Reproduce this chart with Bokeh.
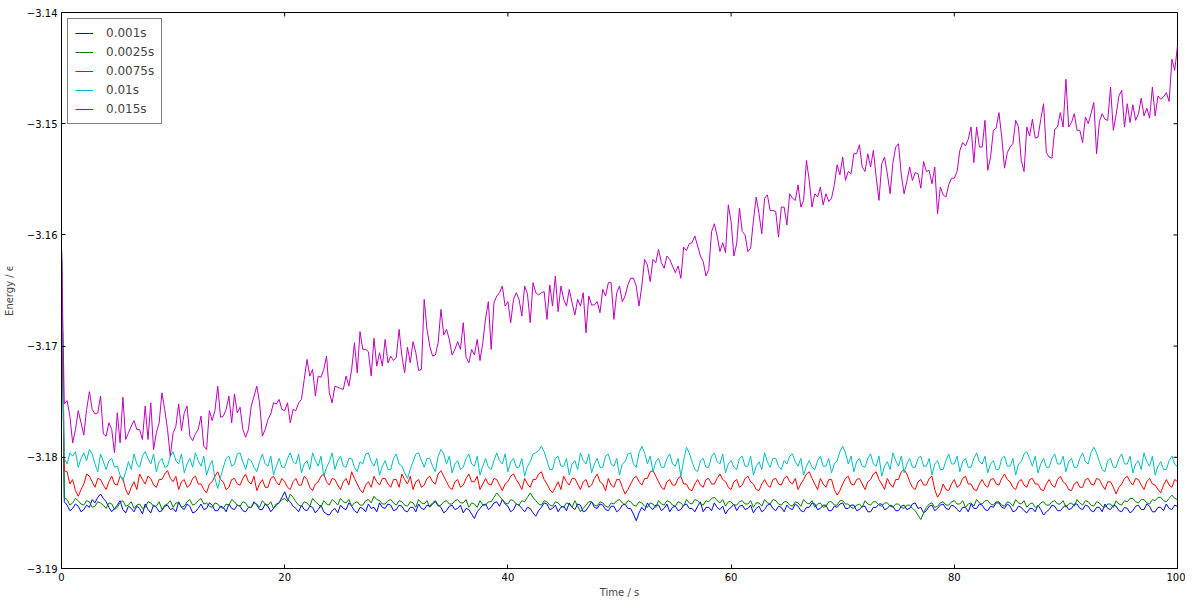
import numpy as np
from bokeh.plotting import figure
from bokeh.models import (Range1d, FixedTicker, Legend, LegendItem,
                          CustomJSTickFormatter)
from bokeh.embed import file_html
from bokeh.resources import INLINE

# ---- data ----
labels = ["0.001s", "0.0025s", "0.0075s", "0.01s", "0.015s"]
colors = ["#0000ff", "#008000", "#ff0000", "#00bfbf", "#bf00bf"]
x_ticks = [0, 20, 40, 60, 80, 100]
y_ticks = [-3.19, -3.18, -3.17, -3.16, -3.15, -3.14]

e_0001 = [
    -3.1612, -3.1840, -3.1843, -3.1848, -3.1846, -3.1842, -3.1844, -3.1849, -3.1847, -3.1843,
    -3.1845, -3.1838, -3.1841, -3.1836, -3.1833, -3.1837, -3.1840, -3.1845, -3.1849, -3.1846,
    -3.1843, -3.1839, -3.1847, -3.1850, -3.1844, -3.1846, -3.1849, -3.1844, -3.1846, -3.1851,
    -3.1842, -3.1847, -3.1850, -3.1843, -3.1845, -3.1849, -3.1848, -3.1844, -3.1843, -3.1847,
    -3.1846, -3.1849, -3.1840, -3.1845, -3.1847, -3.1842, -3.1844, -3.1850, -3.1849, -3.1846,
    -3.1842, -3.1847, -3.1846, -3.1841, -3.1843, -3.1848, -3.1848, -3.1844, -3.1845, -3.1849,
    -3.1842, -3.1846, -3.1847, -3.1843, -3.1844, -3.1848, -3.1849, -3.1845, -3.1845, -3.1840,
    -3.1843, -3.1847, -3.1847, -3.1842, -3.1844, -3.1849, -3.1846, -3.1842, -3.1841, -3.1836,
    -3.1831, -3.1838, -3.1840, -3.1844, -3.1846, -3.1849, -3.1843, -3.1847, -3.1848, -3.1844,
    -3.1845, -3.1850, -3.1847, -3.1843, -3.1849, -3.1851, -3.1852, -3.1848, -3.1846, -3.1850,
    -3.1843, -3.1846, -3.1847, -3.1841, -3.1844, -3.1848, -3.1850, -3.1845, -3.1846, -3.1849,
    -3.1842, -3.1846, -3.1845, -3.1849, -3.1841, -3.1845, -3.1846, -3.1842, -3.1843, -3.1848,
    -3.1847, -3.1843, -3.1844, -3.1848, -3.1849, -3.1845, -3.1845, -3.1849, -3.1842, -3.1846,
    -3.1847, -3.1843, -3.1844, -3.1841, -3.1839, -3.1843, -3.1845, -3.1850, -3.1848, -3.1844,
    -3.1843, -3.1847, -3.1846, -3.1843, -3.1850, -3.1846, -3.1847, -3.1851, -3.1855, -3.1849,
    -3.1846, -3.1843, -3.1842, -3.1847, -3.1845, -3.1841, -3.1840, -3.1844, -3.1838, -3.1842,
    -3.1844, -3.1849, -3.1847, -3.1842, -3.1843, -3.1846, -3.1849, -3.1845, -3.1846, -3.1850,
    -3.1853, -3.1848, -3.1845, -3.1841, -3.1842, -3.1847, -3.1846, -3.1843, -3.1849, -3.1845,
    -3.1844, -3.1848, -3.1841, -3.1845, -3.1847, -3.1842, -3.1843, -3.1849, -3.1848, -3.1844,
    -3.1840, -3.1845, -3.1846, -3.1842, -3.1843, -3.1847, -3.1848, -3.1844, -3.1844, -3.1849,
    -3.1847, -3.1843, -3.1842, -3.1846, -3.1846, -3.1851, -3.1857, -3.1850, -3.1845, -3.1848,
    -3.1841, -3.1845, -3.1847, -3.1843, -3.1843, -3.1848, -3.1846, -3.1842, -3.1849, -3.1845,
    -3.1844, -3.1848, -3.1847, -3.1843, -3.1842, -3.1846, -3.1846, -3.1849, -3.1844, -3.1840,
    -3.1849, -3.1845, -3.1845, -3.1848, -3.1841, -3.1845, -3.1847, -3.1844, -3.1851, -3.1847,
    -3.1845, -3.1842, -3.1848, -3.1844, -3.1843, -3.1847, -3.1846, -3.1843, -3.1850, -3.1846,
    -3.1844, -3.1849, -3.1847, -3.1843, -3.1842, -3.1846, -3.1848, -3.1844, -3.1845, -3.1849,
    -3.1843, -3.1846, -3.1847, -3.1842, -3.1844, -3.1848, -3.1849, -3.1845, -3.1845, -3.1841,
    -3.1842, -3.1847, -3.1846, -3.1843, -3.1843, -3.1848, -3.1848, -3.1844, -3.1845, -3.1842,
    -3.1841, -3.1846, -3.1846, -3.1843, -3.1843, -3.1848, -3.1847, -3.1844, -3.1844, -3.1849,
    -3.1849, -3.1845, -3.1845, -3.1842, -3.1842, -3.1847, -3.1846, -3.1843, -3.1844, -3.1848,
    -3.1848, -3.1844, -3.1843, -3.1847, -3.1846, -3.1842, -3.1841, -3.1846, -3.1845, -3.1850,
    -3.1848, -3.1844, -3.1843, -3.1848, -3.1846, -3.1843, -3.1842, -3.1846, -3.1847, -3.1843,
    -3.1844, -3.1847, -3.1849, -3.1845, -3.1845, -3.1849, -3.1842, -3.1846, -3.1846, -3.1842,
    -3.1843, -3.1847, -3.1848, -3.1844, -3.1845, -3.1841, -3.1841, -3.1845, -3.1846, -3.1842,
    -3.1844, -3.1849, -3.1848, -3.1844, -3.1845, -3.1848, -3.1850, -3.1846, -3.1846, -3.1849,
    -3.1843, -3.1847, -3.1852, -3.1849, -3.1847, -3.1843, -3.1844, -3.1848, -3.1848, -3.1845,
    -3.1843, -3.1847, -3.1846, -3.1842, -3.1842, -3.1846, -3.1847, -3.1843, -3.1844, -3.1848,
    -3.1849, -3.1845, -3.1845, -3.1849, -3.1842, -3.1846, -3.1847, -3.1843, -3.1844, -3.1848,
    -3.1849, -3.1845, -3.1846, -3.1850, -3.1848, -3.1844, -3.1843, -3.1847, -3.1847, -3.1842,
    -3.1844, -3.1849, -3.1849, -3.1845, -3.1845, -3.1848, -3.1842, -3.1846, -3.1847, -3.1843,
    -3.1844,
]

e_0025 = [
    -3.1612, -3.1836, -3.1838, -3.1843, -3.1841, -3.1837, -3.1839, -3.1842, -3.1843, -3.1839,
    -3.1840, -3.1845, -3.1844, -3.1840, -3.1841, -3.1843, -3.1846, -3.1841, -3.1842, -3.1847,
    -3.1845, -3.1841, -3.1839, -3.1844, -3.1843, -3.1840, -3.1846, -3.1843, -3.1842, -3.1846,
    -3.1845, -3.1840, -3.1841, -3.1844, -3.1844, -3.1840, -3.1847, -3.1843, -3.1842, -3.1839,
    -3.1845, -3.1841, -3.1841, -3.1845, -3.1844, -3.1840, -3.1838, -3.1843, -3.1842, -3.1839,
    -3.1837, -3.1842, -3.1841, -3.1844, -3.1845, -3.1841, -3.1842, -3.1845, -3.1846, -3.1842,
    -3.1843, -3.1838, -3.1840, -3.1843, -3.1844, -3.1840, -3.1841, -3.1845, -3.1845, -3.1841,
    -3.1842, -3.1845, -3.1839, -3.1842, -3.1843, -3.1840, -3.1846, -3.1843, -3.1841, -3.1838,
    -3.1837, -3.1840, -3.1833, -3.1836, -3.1840, -3.1843, -3.1844, -3.1840, -3.1841, -3.1844,
    -3.1837, -3.1840, -3.1842, -3.1845, -3.1839, -3.1842, -3.1843, -3.1838, -3.1840, -3.1843,
    -3.1837, -3.1840, -3.1841, -3.1838, -3.1844, -3.1841, -3.1840, -3.1843, -3.1843, -3.1839,
    -3.1838, -3.1841, -3.1835, -3.1838, -3.1839, -3.1842, -3.1842, -3.1839, -3.1838, -3.1841,
    -3.1843, -3.1839, -3.1840, -3.1843, -3.1844, -3.1840, -3.1841, -3.1845, -3.1838, -3.1841,
    -3.1842, -3.1839, -3.1845, -3.1842, -3.1840, -3.1844, -3.1843, -3.1840, -3.1839, -3.1842,
    -3.1842, -3.1839, -3.1838, -3.1841, -3.1841, -3.1838, -3.1845, -3.1841, -3.1842, -3.1845,
    -3.1839, -3.1843, -3.1843, -3.1840, -3.1840, -3.1836, -3.1832, -3.1835, -3.1838, -3.1841,
    -3.1842, -3.1838, -3.1839, -3.1842, -3.1843, -3.1839, -3.1840, -3.1836, -3.1832, -3.1836,
    -3.1839, -3.1842, -3.1843, -3.1839, -3.1840, -3.1843, -3.1844, -3.1840, -3.1841, -3.1844,
    -3.1845, -3.1841, -3.1842, -3.1845, -3.1839, -3.1844, -3.1849, -3.1846, -3.1843, -3.1840,
    -3.1840, -3.1843, -3.1844, -3.1840, -3.1841, -3.1844, -3.1845, -3.1841, -3.1842, -3.1839,
    -3.1838, -3.1841, -3.1843, -3.1839, -3.1840, -3.1843, -3.1844, -3.1840, -3.1841, -3.1844,
    -3.1845, -3.1841, -3.1842, -3.1845, -3.1839, -3.1842, -3.1843, -3.1839, -3.1840, -3.1843,
    -3.1844, -3.1840, -3.1841, -3.1844, -3.1838, -3.1841, -3.1842, -3.1838, -3.1839, -3.1842,
    -3.1843, -3.1839, -3.1840, -3.1837, -3.1836, -3.1839, -3.1841, -3.1838, -3.1844, -3.1840,
    -3.1840, -3.1843, -3.1843, -3.1840, -3.1839, -3.1842, -3.1842, -3.1839, -3.1845, -3.1841,
    -3.1841, -3.1844, -3.1838, -3.1841, -3.1842, -3.1838, -3.1839, -3.1842, -3.1843, -3.1840,
    -3.1840, -3.1843, -3.1844, -3.1840, -3.1841, -3.1844, -3.1838, -3.1841, -3.1842, -3.1839,
    -3.1845, -3.1842, -3.1841, -3.1845, -3.1844, -3.1840, -3.1840, -3.1843, -3.1843, -3.1839,
    -3.1839, -3.1842, -3.1842, -3.1845, -3.1846, -3.1843, -3.1842, -3.1845, -3.1839, -3.1842,
    -3.1843, -3.1840, -3.1840, -3.1843, -3.1844, -3.1841, -3.1841, -3.1844, -3.1845, -3.1842,
    -3.1842, -3.1845, -3.1846, -3.1843, -3.1843, -3.1846, -3.1848, -3.1852, -3.1856, -3.1850,
    -3.1845, -3.1842, -3.1841, -3.1845, -3.1844, -3.1841, -3.1840, -3.1843, -3.1843, -3.1840,
    -3.1839, -3.1842, -3.1842, -3.1839, -3.1845, -3.1842, -3.1841, -3.1844, -3.1838, -3.1841,
    -3.1842, -3.1839, -3.1839, -3.1842, -3.1843, -3.1840, -3.1840, -3.1843, -3.1844, -3.1840,
    -3.1841, -3.1844, -3.1838, -3.1841, -3.1842, -3.1839, -3.1845, -3.1842, -3.1841, -3.1845,
    -3.1844, -3.1841, -3.1840, -3.1843, -3.1843, -3.1840, -3.1839, -3.1842, -3.1842, -3.1839,
    -3.1845, -3.1842, -3.1841, -3.1844, -3.1838, -3.1841, -3.1843, -3.1839, -3.1840, -3.1843,
    -3.1844, -3.1840, -3.1841, -3.1844, -3.1845, -3.1842, -3.1842, -3.1845, -3.1839, -3.1842,
    -3.1843, -3.1839, -3.1840, -3.1837, -3.1837, -3.1840, -3.1841, -3.1838, -3.1838, -3.1841,
    -3.1842, -3.1838, -3.1839, -3.1836, -3.1836, -3.1839, -3.1840, -3.1837, -3.1834, -3.1837,
    -3.1838,
]

e_0075 = [
    -3.1612, -3.1812, -3.1813, -3.1824, -3.1820, -3.1830, -3.1835, -3.1829, -3.1824, -3.1815,
    -3.1817, -3.1822, -3.1827, -3.1819, -3.1820, -3.1825, -3.1829, -3.1822, -3.1817, -3.1824,
    -3.1825, -3.1817, -3.1819, -3.1829, -3.1834, -3.1827, -3.1822, -3.1829, -3.1815, -3.1820,
    -3.1824, -3.1817, -3.1819, -3.1825, -3.1827, -3.1820, -3.1820, -3.1815, -3.1812, -3.1819,
    -3.1822, -3.1817, -3.1829, -3.1822, -3.1820, -3.1827, -3.1825, -3.1819, -3.1817, -3.1824,
    -3.1824, -3.1829, -3.1832, -3.1824, -3.1822, -3.1817, -3.1813, -3.1820, -3.1822, -3.1829,
    -3.1827, -3.1820, -3.1819, -3.1824, -3.1825, -3.1819, -3.1815, -3.1822, -3.1824, -3.1817,
    -3.1830, -3.1824, -3.1820, -3.1827, -3.1827, -3.1819, -3.1817, -3.1822, -3.1825, -3.1819,
    -3.1822, -3.1827, -3.1829, -3.1822, -3.1819, -3.1825, -3.1825, -3.1817, -3.1820, -3.1827,
    -3.1830, -3.1824, -3.1822, -3.1817, -3.1815, -3.1822, -3.1825, -3.1819, -3.1820, -3.1825,
    -3.1829, -3.1822, -3.1819, -3.1825, -3.1813, -3.1819, -3.1824, -3.1829, -3.1832, -3.1825,
    -3.1822, -3.1827, -3.1817, -3.1822, -3.1825, -3.1819, -3.1819, -3.1824, -3.1827, -3.1820,
    -3.1820, -3.1827, -3.1815, -3.1820, -3.1824, -3.1817, -3.1829, -3.1822, -3.1820, -3.1827,
    -3.1825, -3.1819, -3.1817, -3.1822, -3.1824, -3.1815, -3.1812, -3.1817, -3.1822, -3.1827,
    -3.1829, -3.1822, -3.1820, -3.1827, -3.1825, -3.1819, -3.1815, -3.1822, -3.1822, -3.1817,
    -3.1829, -3.1824, -3.1819, -3.1824, -3.1825, -3.1819, -3.1820, -3.1825, -3.1830, -3.1824,
    -3.1822, -3.1817, -3.1815, -3.1820, -3.1824, -3.1829, -3.1819, -3.1824, -3.1827, -3.1820,
    -3.1820, -3.1815, -3.1813, -3.1820, -3.1824, -3.1829, -3.1832, -3.1827, -3.1822, -3.1829,
    -3.1817, -3.1822, -3.1825, -3.1819, -3.1819, -3.1824, -3.1829, -3.1822, -3.1820, -3.1827,
    -3.1825, -3.1819, -3.1815, -3.1822, -3.1824, -3.1830, -3.1819, -3.1825, -3.1827, -3.1820,
    -3.1820, -3.1827, -3.1833, -3.1829, -3.1824, -3.1819, -3.1817, -3.1822, -3.1825, -3.1819,
    -3.1819, -3.1813, -3.1812, -3.1817, -3.1822, -3.1827, -3.1829, -3.1822, -3.1820, -3.1825,
    -3.1825, -3.1819, -3.1817, -3.1824, -3.1824, -3.1829, -3.1830, -3.1824, -3.1820, -3.1825,
    -3.1827, -3.1820, -3.1819, -3.1824, -3.1824, -3.1819, -3.1815, -3.1820, -3.1822, -3.1827,
    -3.1829, -3.1822, -3.1820, -3.1827, -3.1825, -3.1819, -3.1817, -3.1822, -3.1824, -3.1829,
    -3.1830, -3.1824, -3.1820, -3.1825, -3.1827, -3.1820, -3.1819, -3.1824, -3.1825, -3.1819,
    -3.1817, -3.1822, -3.1824, -3.1819, -3.1829, -3.1824, -3.1820, -3.1815, -3.1813, -3.1819,
    -3.1824, -3.1829, -3.1819, -3.1824, -3.1827, -3.1820, -3.1820, -3.1829, -3.1834, -3.1830,
    -3.1824, -3.1819, -3.1817, -3.1824, -3.1825, -3.1820, -3.1819, -3.1824, -3.1829, -3.1822,
    -3.1820, -3.1815, -3.1813, -3.1820, -3.1824, -3.1829, -3.1819, -3.1824, -3.1827, -3.1820,
    -3.1820, -3.1813, -3.1811, -3.1815, -3.1822, -3.1827, -3.1829, -3.1822, -3.1820, -3.1825,
    -3.1825, -3.1819, -3.1817, -3.1829, -3.1836, -3.1832, -3.1824, -3.1829, -3.1830, -3.1824,
    -3.1820, -3.1827, -3.1825, -3.1819, -3.1817, -3.1824, -3.1824, -3.1829, -3.1830, -3.1824,
    -3.1820, -3.1825, -3.1827, -3.1820, -3.1819, -3.1824, -3.1825, -3.1819, -3.1815, -3.1820,
    -3.1822, -3.1827, -3.1829, -3.1822, -3.1820, -3.1825, -3.1827, -3.1820, -3.1819, -3.1824,
    -3.1824, -3.1829, -3.1830, -3.1824, -3.1820, -3.1825, -3.1827, -3.1820, -3.1817, -3.1822,
    -3.1824, -3.1829, -3.1830, -3.1824, -3.1822, -3.1827, -3.1827, -3.1820, -3.1819, -3.1824,
    -3.1825, -3.1819, -3.1820, -3.1825, -3.1829, -3.1822, -3.1822, -3.1827, -3.1833, -3.1827,
    -3.1824, -3.1819, -3.1817, -3.1822, -3.1825, -3.1819, -3.1820, -3.1825, -3.1829, -3.1822,
    -3.1819, -3.1824, -3.1825, -3.1829, -3.1832, -3.1825, -3.1820, -3.1825, -3.1827, -3.1820,
    -3.1822,
]

e_0100 = [
    -3.1612, -3.1801, -3.1806, -3.1796, -3.1799, -3.1795, -3.1809, -3.1801, -3.1796, -3.1803,
    -3.1793, -3.1797, -3.1806, -3.1813, -3.1797, -3.1804, -3.1811, -3.1803, -3.1801, -3.1809,
    -3.1808, -3.1816, -3.1821, -3.1813, -3.1804, -3.1811, -3.1797, -3.1806, -3.1809, -3.1799,
    -3.1795, -3.1801, -3.1806, -3.1797, -3.1813, -3.1804, -3.1801, -3.1809, -3.1808, -3.1799,
    -3.1795, -3.1803, -3.1806, -3.1797, -3.1814, -3.1806, -3.1801, -3.1809, -3.1796, -3.1803,
    -3.1808, -3.1799, -3.1816, -3.1808, -3.1803, -3.1819, -3.1828, -3.1818, -3.1809, -3.1801,
    -3.1799, -3.1808, -3.1806, -3.1797, -3.1796, -3.1804, -3.1811, -3.1801, -3.1803, -3.1809,
    -3.1813, -3.1804, -3.1797, -3.1806, -3.1808, -3.1799, -3.1816, -3.1808, -3.1801, -3.1809,
    -3.1809, -3.1801, -3.1796, -3.1804, -3.1806, -3.1797, -3.1814, -3.1806, -3.1803, -3.1811,
    -3.1796, -3.1803, -3.1808, -3.1799, -3.1817, -3.1809, -3.1804, -3.1796, -3.1811, -3.1803,
    -3.1799, -3.1808, -3.1809, -3.1801, -3.1801, -3.1809, -3.1813, -3.1804, -3.1806, -3.1797,
    -3.1796, -3.1804, -3.1808, -3.1801, -3.1816, -3.1808, -3.1803, -3.1811, -3.1811, -3.1801,
    -3.1797, -3.1806, -3.1808, -3.1814, -3.1819, -3.1811, -3.1804, -3.1797, -3.1796, -3.1803,
    -3.1809, -3.1801, -3.1801, -3.1808, -3.1813, -3.1799, -3.1793, -3.1797, -3.1806, -3.1799,
    -3.1814, -3.1806, -3.1803, -3.1811, -3.1809, -3.1801, -3.1797, -3.1806, -3.1808, -3.1799,
    -3.1816, -3.1808, -3.1801, -3.1809, -3.1811, -3.1803, -3.1796, -3.1803, -3.1806, -3.1797,
    -3.1813, -3.1804, -3.1801, -3.1809, -3.1809, -3.1801, -3.1817, -3.1808, -3.1804, -3.1797,
    -3.1796, -3.1794, -3.1790, -3.1795, -3.1803, -3.1811, -3.1811, -3.1801, -3.1799, -3.1808,
    -3.1808, -3.1801, -3.1816, -3.1806, -3.1803, -3.1811, -3.1796, -3.1803, -3.1806, -3.1797,
    -3.1814, -3.1806, -3.1801, -3.1809, -3.1809, -3.1799, -3.1797, -3.1806, -3.1808, -3.1801,
    -3.1816, -3.1806, -3.1804, -3.1797, -3.1796, -3.1806, -3.1809, -3.1796, -3.1790, -3.1796,
    -3.1806, -3.1799, -3.1813, -3.1804, -3.1801, -3.1809, -3.1809, -3.1801, -3.1797, -3.1806,
    -3.1808, -3.1801, -3.1817, -3.1803, -3.1791, -3.1796, -3.1804, -3.1811, -3.1813, -3.1803,
    -3.1801, -3.1809, -3.1809, -3.1799, -3.1796, -3.1804, -3.1806, -3.1797, -3.1814, -3.1806,
    -3.1803, -3.1809, -3.1811, -3.1801, -3.1799, -3.1808, -3.1808, -3.1799, -3.1816, -3.1808,
    -3.1804, -3.1811, -3.1796, -3.1804, -3.1809, -3.1801, -3.1801, -3.1808, -3.1811, -3.1803,
    -3.1806, -3.1799, -3.1797, -3.1804, -3.1808, -3.1801, -3.1816, -3.1808, -3.1803, -3.1809,
    -3.1811, -3.1803, -3.1799, -3.1808, -3.1808, -3.1801, -3.1814, -3.1806, -3.1803, -3.1795,
    -3.1790, -3.1796, -3.1806, -3.1799, -3.1813, -3.1804, -3.1801, -3.1808, -3.1809, -3.1801,
    -3.1797, -3.1806, -3.1808, -3.1799, -3.1817, -3.1808, -3.1804, -3.1811, -3.1796, -3.1803,
    -3.1808, -3.1799, -3.1814, -3.1806, -3.1801, -3.1809, -3.1809, -3.1801, -3.1799, -3.1808,
    -3.1808, -3.1801, -3.1816, -3.1806, -3.1803, -3.1811, -3.1811, -3.1803, -3.1797, -3.1806,
    -3.1806, -3.1799, -3.1813, -3.1804, -3.1801, -3.1809, -3.1809, -3.1801, -3.1796, -3.1804,
    -3.1806, -3.1799, -3.1814, -3.1806, -3.1803, -3.1811, -3.1811, -3.1801, -3.1799, -3.1808,
    -3.1808, -3.1801, -3.1816, -3.1806, -3.1804, -3.1797, -3.1795, -3.1801, -3.1808, -3.1799,
    -3.1814, -3.1806, -3.1801, -3.1809, -3.1809, -3.1801, -3.1797, -3.1806, -3.1806, -3.1799,
    -3.1813, -3.1804, -3.1801, -3.1809, -3.1809, -3.1801, -3.1796, -3.1804, -3.1806, -3.1796,
    -3.1791, -3.1796, -3.1804, -3.1811, -3.1813, -3.1803, -3.1801, -3.1809, -3.1809, -3.1801,
    -3.1797, -3.1806, -3.1806, -3.1799, -3.1814, -3.1806, -3.1803, -3.1811, -3.1796, -3.1804,
    -3.1808, -3.1799, -3.1816, -3.1808, -3.1804, -3.1811, -3.1811, -3.1803, -3.1799, -3.1806,
    -3.1809,
]

e_0150 = [
    -3.1612, -3.1752, -3.1749, -3.1763, -3.1787, -3.1775, -3.1758, -3.1769, -3.1780, -3.1757,
    -3.1741, -3.1757, -3.1761, -3.1760, -3.1745, -3.1779, -3.1781, -3.1769, -3.1775, -3.1796,
    -3.1760, -3.1787, -3.1746, -3.1784, -3.1778, -3.1772, -3.1767, -3.1775, -3.1775, -3.1784,
    -3.1754, -3.1784, -3.1751, -3.1793, -3.1778, -3.1769, -3.1742, -3.1757, -3.1775, -3.1799,
    -3.1778, -3.1772, -3.1752, -3.1776, -3.1760, -3.1754, -3.1781, -3.1785, -3.1779, -3.1775,
    -3.1763, -3.1790, -3.1793, -3.1758, -3.1767, -3.1758, -3.1736, -3.1764, -3.1763, -3.1757,
    -3.1745, -3.1769, -3.1743, -3.1760, -3.1755, -3.1775, -3.1782, -3.1775, -3.1754, -3.1745,
    -3.1736, -3.1751, -3.1781, -3.1775, -3.1766, -3.1761, -3.1751, -3.1752, -3.1748, -3.1757,
    -3.1758,
    -3.1751, -3.1769, -3.1757, -3.1758, -3.1751, -3.1748, -3.1730, -3.1712, -3.1727, -3.1721,
    -3.1745, -3.1727, -3.1728, -3.1721, -3.1709, -3.1742, -3.1751, -3.1736, -3.1737, -3.1738,
    -3.1739, -3.1727, -3.1736, -3.1721, -3.1697, -3.1724, -3.1687, -3.1703, -3.1703, -3.1705,
    -3.1727, -3.1693, -3.1718, -3.1706, -3.1718, -3.1694, -3.1715, -3.1709, -3.1713, -3.1710,
    -3.1685, -3.1709, -3.1724, -3.1701, -3.1715, -3.1696, -3.1706, -3.1722, -3.1721, -3.1658,
    -3.1685, -3.1700, -3.1709, -3.1708, -3.1697, -3.1667, -3.1690, -3.1685, -3.1694, -3.1708,
    -3.1703, -3.1696, -3.1703, -3.1679, -3.1710, -3.1715, -3.1703, -3.1708, -3.1694, -3.1713,
    -3.1697, -3.1675, -3.1660, -3.1703, -3.1661, -3.1655, -3.1652, -3.1646, -3.1664, -3.1660,
    -3.1679, -3.1658, -3.1652, -3.1658, -3.1673, -3.1646, -3.1653, -3.1679, -3.1643, -3.1652,
    -3.1654, -3.1652, -3.1651, -3.1676, -3.1645, -3.1664, -3.1637, -3.1669, -3.1646, -3.1658,
    -3.1664, -3.1649, -3.1661, -3.1672, -3.1658, -3.1664, -3.1652, -3.1688, -3.1655, -3.1663,
    -3.1663, -3.1660, -3.1670, -3.1649, -3.1655, -3.1643, -3.1643, -3.1676, -3.1652, -3.1646,
    -3.1660, -3.1655, -3.1645, -3.1639, -3.1639, -3.1646, -3.1664, -3.1646, -3.1622, -3.1627,
    -3.1642, -3.1622, -3.1625, -3.1613, -3.1625, -3.1630, -3.1619, -3.1622, -3.1628, -3.1634,
    -3.1628, -3.1639, -3.1611, -3.1614, -3.1608, -3.1607, -3.1601, -3.1610, -3.1619, -3.1624,
    -3.1637, -3.1631, -3.1597, -3.1590, -3.1601, -3.1615, -3.1607, -3.1616, -3.1573, -3.1588,
    -3.1619, -3.1608, -3.1576, -3.1597, -3.1600, -3.1615, -3.1612, -3.1587, -3.1566, -3.1581,
    -3.1599, -3.1567, -3.1564, -3.1578, -3.1578, -3.1579, -3.1602, -3.1575, -3.1575, -3.1591,
    -3.1563, -3.1567, -3.1569, -3.1555, -3.1575, -3.1569, -3.1533, -3.1551, -3.1575, -3.1563,
    -3.1566, -3.1557, -3.1573, -3.1563, -3.1570, -3.1567, -3.1555, -3.1537, -3.1546, -3.1530,
    -3.1551, -3.1543, -3.1545, -3.1527, -3.1527, -3.1519, -3.1539, -3.1543, -3.1527, -3.1539,
    -3.1524, -3.1548, -3.1569, -3.1536, -3.1530, -3.1545, -3.1563, -3.1535, -3.1521, -3.1518,
    -3.1546, -3.1563, -3.1552, -3.1539, -3.1551, -3.1544, -3.1545, -3.1558, -3.1534, -3.1543,
    -3.1542, -3.1554, -3.1539, -3.1581, -3.1557, -3.1564, -3.1566, -3.1555, -3.1549, -3.1549,
    -3.1543, -3.1524, -3.1517, -3.1520, -3.1514, -3.1503, -3.1535, -3.1503, -3.1521, -3.1521,
    -3.1497, -3.1542, -3.1530, -3.1506, -3.1504, -3.1490, -3.1512, -3.1540, -3.1526, -3.1521,
    -3.1518, -3.1497, -3.1503, -3.1533, -3.1543, -3.1503, -3.1511, -3.1496, -3.1513, -3.1512,
    -3.1496, -3.1482, -3.1526, -3.1530, -3.1531, -3.1505, -3.1503, -3.1490, -3.1503, -3.1460,
    -3.1503, -3.1499, -3.1491, -3.1506, -3.1506, -3.1517, -3.1494, -3.1500, -3.1491, -3.1481,
    -3.1527, -3.1498, -3.1491, -3.1496, -3.1497, -3.1467, -3.1506, -3.1492, -3.1475, -3.1470,
    -3.1503, -3.1482, -3.1499, -3.1483, -3.1497, -3.1491, -3.1477, -3.1493, -3.1486, -3.1495,
    -3.1467, -3.1493, -3.1475, -3.1478, -3.1476, -3.1472, -3.1480, -3.1442, -3.1452, -3.1430,
]

series = [e_0001, e_0025, e_0075, e_0100, e_0150]
T_END = 100.0

FONT = "DejaVu Sans"

p = figure(width=1185, height=600, output_backend="svg", toolbar_location=None,
           x_range=Range1d(0, 100), y_range=Range1d(-3.19, -3.14),
           min_border_left=61, min_border_right=8, min_border_top=12, min_border_bottom=31,
           x_axis_label="Time / s", y_axis_label="Energy / \u03f5")
p.background_fill_color = "white"
p.border_fill_color = "white"
p.outline_line_color = "black"
p.outline_line_width = 1
p.xgrid.visible = False
p.ygrid.visible = False

y_fmt = CustomJSTickFormatter(code="return (tick < 0 ? '\\u2212' : '') + Math.abs(tick).toFixed(2);")

for ax in p.xaxis:
    ax.ticker = FixedTicker(ticks=x_ticks)
    ax.axis_label_standoff = 3
for ax in p.yaxis:
    ax.ticker = FixedTicker(ticks=y_ticks)
    ax.formatter = y_fmt
    ax.axis_label_standoff = 9

for ax in list(p.xaxis) + list(p.yaxis):
    ax.major_tick_in = 4
    ax.major_tick_out = 0
    ax.minor_tick_in = 0
    ax.minor_tick_out = 0
    ax.major_label_standoff = 4
    ax.major_label_text_font = FONT
    ax.major_label_text_font_size = "10px"
    ax.major_label_text_color = "black"
    ax.axis_label_text_font = FONT
    ax.axis_label_text_font_size = "10px"
    ax.axis_label_text_font_style = "normal"
    ax.axis_line_color = "black"

# inward ticks on the top and right spines
p.ray(x=x_ticks[1:-1], y=[y_ticks[-1]] * (len(x_ticks) - 2), length=4, length_units="screen",
      angle=-np.pi / 2, line_color="black", line_width=1)
p.ray(x=[x_ticks[-1]] * (len(y_ticks) - 2), y=y_ticks[1:-1], length=4, length_units="screen",
      angle=np.pi, line_color="black", line_width=1)

items = []
for lab, col, vals in zip(labels, colors, series):
    t = np.linspace(0.0, T_END, len(vals))
    r = p.line(t, vals, line_color=col, line_width=1)
    items.append(LegendItem(label=lab, renderers=[r]))

legend = Legend(items=items, location="top_left")
legend.margin = 6
legend.padding = 7
legend.spacing = 5
legend.glyph_width = 18
legend.glyph_height = 14
legend.label_height = 14
legend.label_standoff = 13
legend.label_text_font = FONT
legend.label_text_font_size = "12px"
legend.border_line_color = "black"
legend.border_line_width = 1
legend.background_fill_color = "white"
legend.background_fill_alpha = 1.0
p.add_layout(legend, "center")

open("out.html", "w").write(file_html(p, INLINE))
